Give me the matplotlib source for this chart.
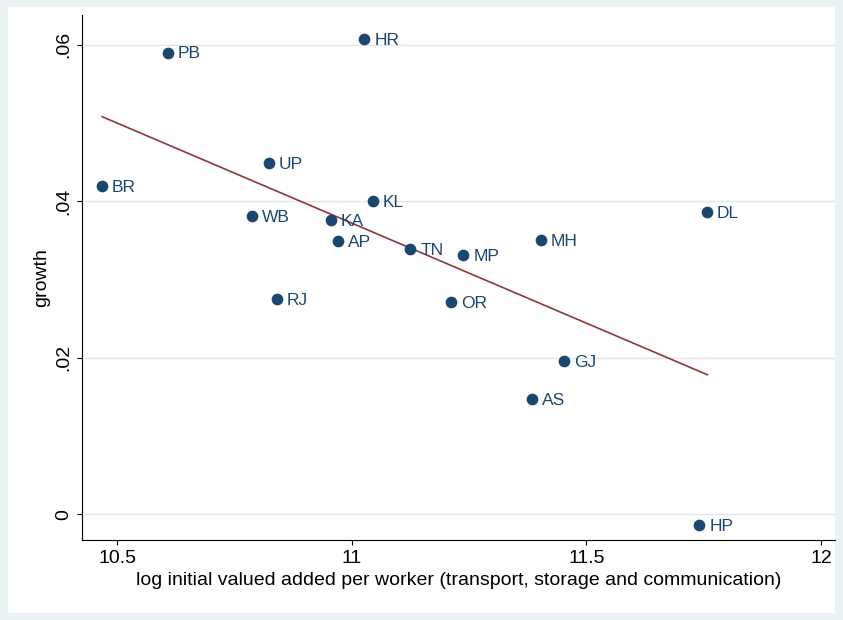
import numpy as np
import matplotlib.pyplot as plt
from matplotlib.patches import Rectangle

plt.rcParams['font.family'] = ['Liberation Sans', 'DejaVu Sans']

states = ["PB", "HR", "UP", "BR", "KL", "WB", "KA", "AP", "TN", "MP",
          "MH", "DL", "RJ", "OR", "GJ", "AS", "HP"]
log_va = [10.609, 11.027, 10.824, 10.468, 11.046, 10.788, 10.956, 10.971, 11.125,
          11.238, 11.404, 11.758, 10.841, 11.212, 11.453, 11.385, 11.741]
growth = [0.0590, 0.0607, 0.0449, 0.0419, 0.0400, 0.0381, 0.0376, 0.0349, 0.0339,
          0.0331, 0.0350, 0.0386, 0.0275, 0.0271, 0.0196, 0.0147, -0.0014]

fig = plt.figure(figsize=(8.43, 6.20), dpi=100, facecolor="#eaf2f3")
fig.patches.append(Rectangle((0.009, 0.011), 0.982, 0.978, transform=fig.transFigure,
                             facecolor="white", edgecolor="none", zorder=-5))
ax = fig.add_axes([82/843, 80/620, 753/843, 525/620])
ax.set_zorder(2)

ax.scatter(log_va, growth, s=55, color="#1a476f", zorder=3)
for s, x, y in zip(states, log_va, growth):
    ax.annotate(s, (x, y), xytext=(7, -1), textcoords="offset points",
                va="center", fontsize=12.5, color="#1a476f")

b, a = np.polyfit(log_va, growth, 1)
xs = np.array([min(log_va), max(log_va)])
ax.plot(xs, a + b * xs, color="#90353b", lw=1.2, zorder=2)

ax.set_xlim(10.425, 12.03)
ax.set_ylim(-0.0033, 0.0638)
ax.set_xticks([10.5, 11, 11.5, 12])
ax.set_xticklabels(["10.5", "11", "11.5", "12"])
ax.set_yticks([0, 0.02, 0.04, 0.06])
ax.set_yticklabels(["0", ".02", ".04", ".06"], rotation=90, va="center")
ax.tick_params(labelsize=14)
ax.yaxis.grid(True, color="#e5e5e5", lw=1)
ax.set_axisbelow(True)
for sp in ["top", "right"]:
    ax.spines[sp].set_visible(False)
ax.set_xlabel("log initial valued added per worker (transport, storage and communication)", fontsize=14)
ax.set_ylabel("growth", fontsize=14)

fig.savefig("out.png", dpi=100, facecolor=fig.get_facecolor())
